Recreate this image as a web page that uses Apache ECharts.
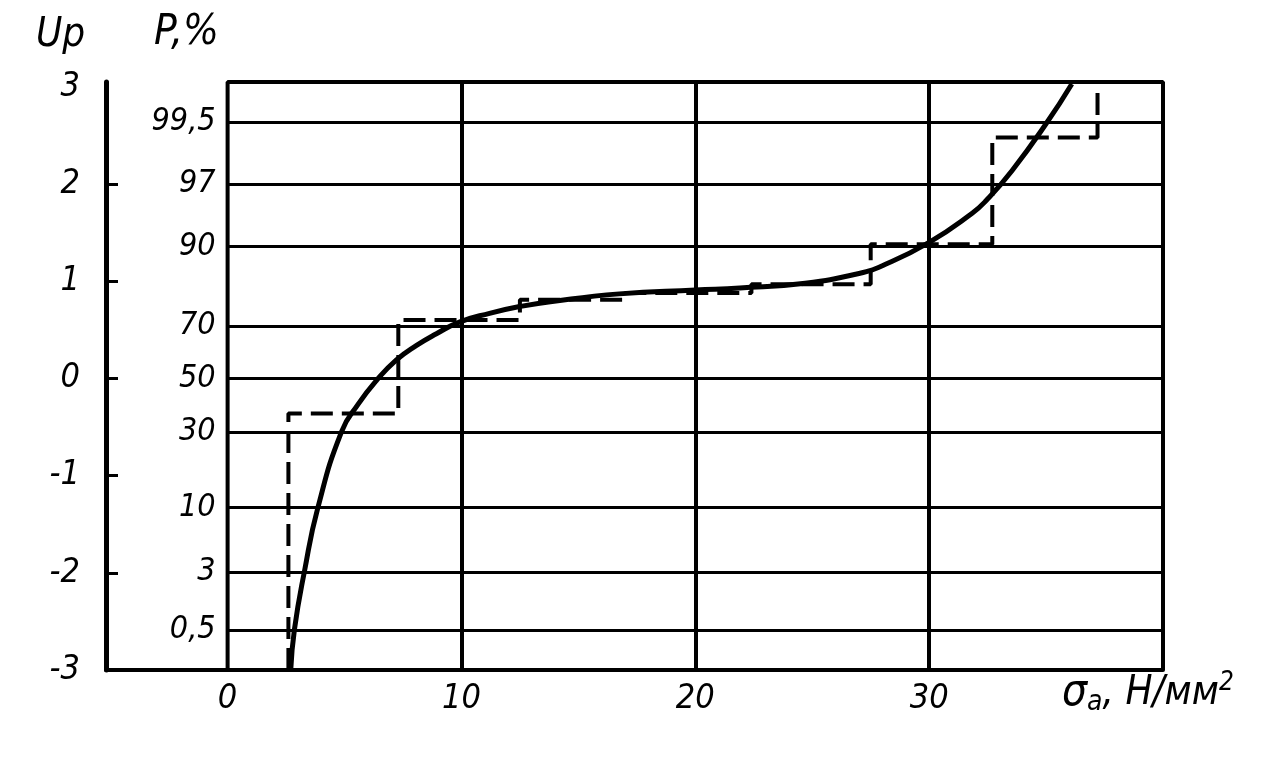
<!DOCTYPE html>
<html><head><meta charset="utf-8">
<script src="https://cdn.jsdelivr.net/npm/echarts@6/dist/echarts.min.js"></script>
<style>html,body{margin:0;padding:0;background:#fff}#c{width:1265px;height:758px}</style>
</head><body><div id="c"></div>
<script>
// ---- data ----
const upTicks = [-3, -2, -1, 0, 1, 2, 3];
const upInnerTicks = [-2, -1, 0, 1, 2];
const xTicks = [0, 10, 20, 30];
const pLabels = ['99,5', '97', '90', '70', '50', '30', '10', '3', '0,5'];
const pLevels = [2.64, 2.0, 1.36, 0.54, 0, -0.55, -1.33, -1.99, -2.59];
const vGrid = [10, 20, 30];
const curveX = [2.7, 2.86, 3.29, 3.85, 4.87, 5.6, 6.37, 7.22, 8.08, 8.93, 9.91, 11.2, 12.5, 13.8, 16.75, 20.0, 21.9, 24.7, 27.0, 28.0, 30.0, 31.84, 32.44, 33.55, 35.0, 36.1];
const curveY = [-3.0, -2.58, -1.98, -1.34, -0.55, -0.26, -0.02, 0.19, 0.34, 0.46, 0.58, 0.67, 0.74, 0.79, 0.87, 0.91, 0.93, 0.98, 1.08, 1.16, 1.40, 1.70, 1.83, 2.14, 2.62, 3.03];
const stepEdges = [2.6, 7.3, 12.5, 17.0, 22.4, 27.5, 32.7, 37.2];
const stepLevels = [-0.36, 0.60, 0.81, 0.88, 0.97, 1.38, 2.48];
const xMin = -5.2, xMax = 40, yMin = -3, yMax = 3.05;
const frameX = [0, 0, 40, 40];
const frameY = [-3, 3.05, 3.05, -3];

const FONT = '"Liberation Sans Narrow","DejaVu Sans Condensed","Liberation Sans",sans-serif';
const INK = '#000';

// build step corners
const stepData = [[stepEdges[0], yMin]];
for (let i = 0; i < stepLevels.length; i++) {
  stepData.push([stepEdges[i], stepLevels[i]]);
  stepData.push([stepEdges[i + 1], stepLevels[i]]);
}
stepData.push([stepEdges[stepEdges.length - 1], yMax]);

const markData = [];
vGrid.forEach(v => markData.push([{coord: [v, yMin], label: {show: false}}, {coord: [v, yMax]}]));
pLevels.forEach((z, i) => markData.push([
  {coord: [0, z], name: pLabels[i], lineStyle: {width: 3}},
  {coord: [40, z]}
]));

const chart = echarts.init(document.getElementById('c'), null, {renderer: 'canvas'});
chart.setOption({
  animation: false,
  backgroundColor: '#fff',
  grid: {left: 106, right: 102, top: 82, bottom: 88, containLabel: false},
  xAxis: {
    type: 'value', min: xMin, max: xMax,
    axisLine: {show: true, onZero: false, lineStyle: {color: INK, width: 4}},
    axisTick: {show: false},
    splitLine: {show: false},
    axisLabel: {customValues: xTicks, color: INK, fontFamily: FONT, fontStyle: 'italic', fontSize: 34, margin: 12}
  },
  yAxis: {
    type: 'value', min: yMin, max: yMax,
    axisLine: {show: true, onZero: false, lineStyle: {color: INK, width: 5}},
    axisTick: {show: true, inside: true, length: 12, customValues: upInnerTicks, lineStyle: {color: INK, width: 3}},
    splitLine: {show: false},
    axisLabel: {customValues: upTicks, color: INK, fontFamily: FONT, fontStyle: 'italic', fontSize: 34, margin: 26}
  },
  graphic: [
    {type: 'text', left: 36, top: 16, style: {text: 'Up', font: 'italic 40px ' + FONT, fill: INK}},
    {type: 'text', left: 154, top: 12, style: {text: 'P,%', font: 'italic 42px ' + FONT, fill: INK}},
    {type: 'text', left: 1062, top: 670, style: {
      rich: {
        s: {font: 'italic 44px ' + FONT, fill: INK},
        sub: {font: 'italic 28px ' + FONT, fill: INK, padding: [18, 0, 0, 0]},
        u: {font: 'italic 40px ' + FONT, fill: INK},
        sup: {font: 'italic 26px ' + FONT, fill: INK, padding: [0, 0, 22, 0]}
      },
      text: '{s|σ}{sub|a}{u|, Н/мм}{sup|2}'
    }}
  ],
  series: [
    {
      name: 'frame', type: 'line', silent: true, symbol: 'none',
      data: frameX.map((x, i) => [x, frameY[i]]),
      lineStyle: {color: INK, width: 4},
      markLine: {
        silent: true, symbol: ['none', 'none'],
        lineStyle: {color: INK, width: 4, type: 'solid'},
        label: {show: true, position: 'start', formatter: '{b}', distance: 12, color: INK,
                fontFamily: FONT, fontStyle: 'italic', fontSize: 32},
        emphasis: {disabled: true},
        data: markData
      }
    },
    {
      name: 'curve', type: 'line', silent: true, symbol: 'none', smooth: 0.5,
      data: curveX.map((x, i) => [x, curveY[i]]),
      lineStyle: {color: INK, width: 5}
    },
    {
      name: 'step', type: 'line', silent: true, symbol: 'none',
      data: stepData,
      lineStyle: {color: INK, width: 4, type: [22, 9]}
    }
  ]
});
</script>
</body></html>
